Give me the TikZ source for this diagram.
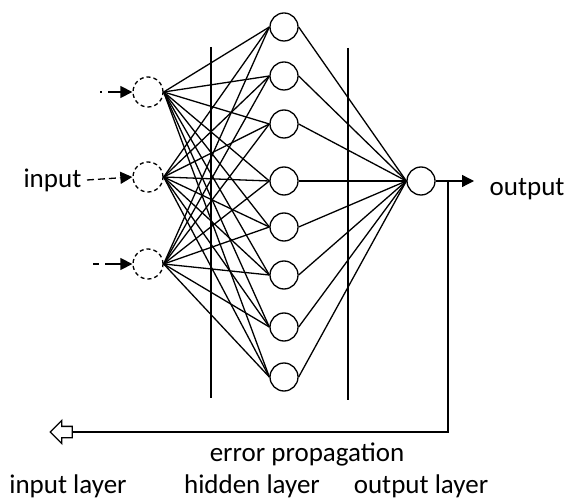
\documentclass[tikz,border=0pt]{standalone}
\usepackage{fontspec}
\setmainfont{Carlito}
\usetikzlibrary{arrows.meta,shapes.arrows}

\begin{document}
\begin{tikzpicture}[x=1pt,y=-1pt,line width=1.3pt,
  neuron/.style={circle,draw,minimum size=28pt,inner sep=0pt},
  inneuron/.style={neuron,dash pattern=on 4pt off 3pt,minimum size=30pt},
  lbl/.style={font=\fontsize{27}{30}\selectfont,inner sep=0pt},
  tip/.style={-{Triangle[length=12pt,width=12pt]}}]
\useasboundingbox (0,0) rectangle (580,502);
% layers
\foreach \i/\y in {1/92,2/177,3/264}{\node[inneuron] (i\i) at (148,\y) {};}
\foreach \h/\y in {1/27,2/76,3/124,4/181,5/227,6/275,7/327,8/377}{\node[neuron] (h\h) at (284,\y) {};}
\node[neuron] (o) at (421,181) {};
\foreach \i in {1,2,3}{\foreach \h in {1,...,8}{\draw (i\i.east) -- (h\h.west);}}
\foreach \h in {1,...,8}{\draw (h\h.east) -- (o.west);}
\draw (211,47) -- (211,398);
\draw (348,48) -- (348,400);
% inputs
\node[lbl,anchor=east] (inp) at (82,180) {input};
\coordinate (a1) at (100,92); \coordinate (a3) at (93,264);
\draw[tip,dash pattern=on 2pt off 6pt on 12pt off 0pt] (a1) -- (i1.west);
\draw[tip,dash pattern=on 7pt off 4pt] (inp.east) ++(5pt,0) -- (i2.west);
\draw[tip,dash pattern=on 6pt off 6pt on 12pt off 0pt] (a3) -- (i3.west);
% output and error feedback
\node[lbl,anchor=west] (outl) at (489,189) {output};
\coordinate (oend) at (474,181); \coordinate (br) at (448,181);
\draw[tip] (o.east) -- (oend);
\node[single arrow,draw,shape border rotate=180,inner sep=5pt,minimum width=22pt,minimum height=22pt,single arrow head extend=6pt] (back) at (64,432) {};
\draw (br) |- (back.tail);
\node[lbl] (err) at (307,454) {error propagation};
\foreach \n/\x/\t in {il/68/input layer,hl/252/hidden layer,ol/421/output layer}{\node[lbl] (\n) at (\x,486) {\t};}
\end{tikzpicture}
\end{document}
